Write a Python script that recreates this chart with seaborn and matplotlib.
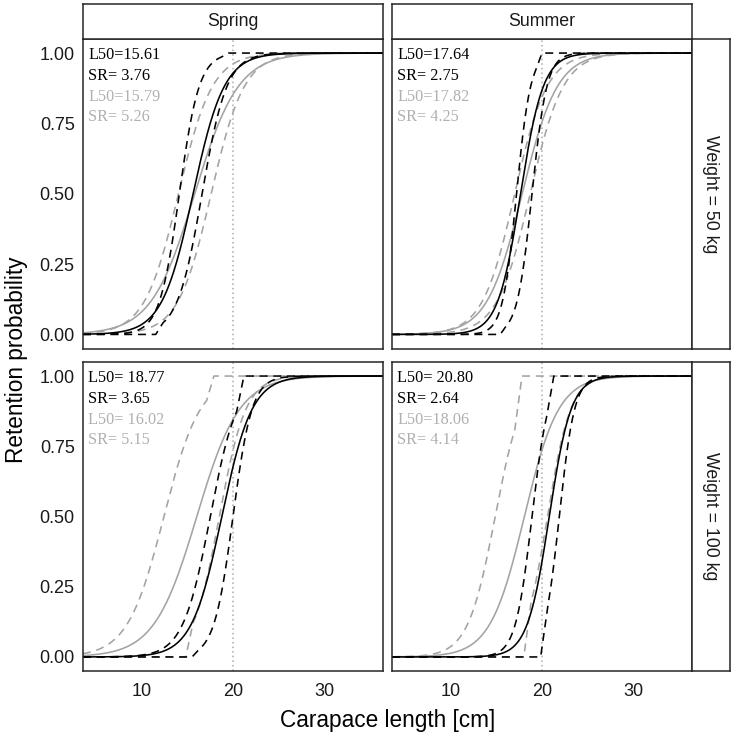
import numpy as np
import pandas as pd
import matplotlib
matplotlib.use("Agg")
import matplotlib.pyplot as plt
import seaborn as sns

sns.set_theme(style="white")
plt.rcParams['font.family'] = ['Liberation Sans', 'DejaVu Sans']

# ---------------- data ----------------
seasons = ["Spring", "Summer"]
weights = ["Weight = 50 kg", "Weight = 100 kg"]
# panel order: (Spring,50), (Summer,50), (Spring,100), (Summer,100)
panel_season = ["Spring", "Summer", "Spring", "Summer"]
panel_weight = ["Weight = 50 kg", "Weight = 50 kg", "Weight = 100 kg", "Weight = 100 kg"]

black_L50 = [15.61, 17.64, 18.77, 20.80]
black_SR = [3.76, 2.75, 3.65, 2.64]
gray_L50 = [15.79, 17.82, 16.02, 18.06]
gray_SR = [5.26, 4.25, 5.15, 4.14]

black_L50_text = ["L50=15.61", "L50=17.64", "L50= 18.77", "L50= 20.80"]
black_SR_text = ["SR= 3.76", "SR= 2.75", "SR= 3.65", "SR= 2.64"]
gray_L50_text = ["L50=15.79", "L50=17.82", "L50= 16.02", "L50=18.06"]
gray_SR_text = ["SR= 5.26", "SR= 4.25", "SR= 5.15", "SR= 4.14"]

# confidence band curves: L50, SR, and truncation points
black_lo_L50 = [14.1, 17.2, 17.5, 18.9]
black_lo_SR = [2.4, 1.7, 3.3, 2.0]
black_lo_cap = [18.7, 19.2, 20.4, 20.5]      # rises straight to 1 after this length
black_hi_L50 = [16.6, 18.9, 20.0, 21.9]
black_hi_SR = [3.0, 1.8, 2.3, 1.85]
black_hi_floor = [11.5, 15.4, 15.5, 19.85]   # zero up to this length
gray_lo_L50 = [14.0, 17.0, 12.4, 14.85]
gray_lo_SR = [4.1, 3.9, 4.4, 3.3]
gray_lo_cap = [99.0, 99.0, 17.1, 17.0]
gray_hi_L50 = [17.6, 18.7, 18.5, 20.6]
gray_hi_SR = [4.0, 4.0, 3.2, 2.8]
gray_hi_floor = [0.0, 0.0, 14.8, 18.0]

mls = 20
x_ticks = [10, 20, 30]
y_ticks = [0.0, 0.25, 0.50, 0.75, 1.00]
y_tick_labels = ["0.00", "0.25", "0.50", "0.75", "1.00"]

# ---------------- curves ----------------
lengths = np.round(np.arange(3.5, 36.5001, 0.05), 3)
RAMP = 0.8


def logistic(l, l50, sr):
    return 1.0 / (1.0 + np.exp(np.log(9.0) * (l50 - l) / sr))


def band_curve(l, l50, sr, floor, cap):
    y = logistic(l, l50, sr)
    # truncation at the top: straight segment up to 1
    yc = logistic(cap, l50, sr)
    top = (l > cap) & (l < cap + RAMP)
    y = np.where(top, yc + (1 - yc) * (l - cap) / RAMP, y)
    y = np.where(l >= cap + RAMP, 1.0, y)
    # truncation at the bottom: flat 0 then straight segment
    yf = logistic(floor + RAMP, l50, sr)
    bot = (l > floor) & (l < floor + RAMP)
    y = np.where(bot, yf * (l - floor) / RAMP, y)
    y = np.where(l <= floor, 0.0, y)
    return y


rows = []
for p in range(4):
    specs = [
        ("gray_lo", gray_lo_L50[p], gray_lo_SR[p], -99, gray_lo_cap[p]),
        ("gray_hi", gray_hi_L50[p], gray_hi_SR[p], gray_hi_floor[p], 99),
        ("gray", gray_L50[p], gray_SR[p], -99, 99),
        ("black_lo", black_lo_L50[p], black_lo_SR[p], -99, black_lo_cap[p]),
        ("black_hi", black_hi_L50[p], black_hi_SR[p], black_hi_floor[p], 99),
        ("black", black_L50[p], black_SR[p], -99, 99),
    ]
    for name, l50, sr, lo, hi in specs:
        y = band_curve(lengths, l50, sr, lo, hi)
        for xv, yv in zip(lengths, y):
            rows.append((p, name, xv, yv))
df = pd.DataFrame(rows, columns=["panel", "curve", "length", "prob"])

GRAY = "#a3a3a3"
TXTGRAY = "#b0b0b0"
palette = {"gray_lo": GRAY, "gray_hi": GRAY, "gray": GRAY,
           "black_lo": "black", "black_hi": "black", "black": "black"}
dashes = {"gray_lo": (5, 3.6), "gray_hi": (5, 3.6), "gray": "",
          "black_lo": (5, 3.6), "black_hi": (5, 3.6), "black": ""}
order = ["gray_lo", "gray_hi", "gray", "black_lo", "black_hi", "black"]

# ---------------- layout ----------------
W = 732.0
fig = plt.figure(figsize=(7.32, 7.32), dpi=100)
fig.patch.set_facecolor("white")

col_x = [(83, 383), (392, 692)]
row_y = [(39, 348.5), (362, 671)]


def box(x0, x1, y0, y1):
    return [x0 / W, 1 - y1 / W, (x1 - x0) / W, (y1 - y0) / W]


for p in range(4):
    r, c = divmod(p, 2)
    ax = fig.add_axes(box(*col_x[c], *row_y[r]))
    ax.set_facecolor("white")
    sub = df[df.panel == p]
    sns.lineplot(data=sub, x="length", y="prob", hue="curve", style="curve",
                 hue_order=order, style_order=order, palette=palette,
                 dashes=dashes, estimator=None, sort=False, legend=False,
                 linewidth=1.15, ax=ax)
    ax.axvline(mls, color="#ababab", linestyle=(0, (1, 2.0)), linewidth=1.1, zorder=0)
    ax.set_xlim(3.5, 36.5)
    ax.set_ylim(-0.05, 1.05)
    ax.set_xlabel("")
    ax.set_ylabel("")
    ax.set_xticks(x_ticks)
    ax.set_yticks(y_ticks)
    for s in ax.spines.values():
        s.set_visible(True)
        s.set_color("#262626")
        s.set_linewidth(1.1)
    ax.tick_params(axis="both", direction="out", length=3.5, width=0.9,
                   color="#333333", labelsize=13, labelcolor="#1a1a1a", pad=2.5)
    ax.tick_params(axis="x", pad=5.5)
    if c == 0:
        ax.set_yticklabels(y_tick_labels)
    else:
        ax.tick_params(axis="y", left=False, labelleft=False)
    if r == 1:
        ax.set_xticklabels([str(t) for t in x_ticks])
    else:
        ax.tick_params(axis="x", bottom=False, labelbottom=False)
    texts = [(black_L50_text[p], "black"), (black_SR_text[p], "black"),
             (gray_L50_text[p], TXTGRAY), (gray_SR_text[p], TXTGRAY)]
    ys = [0.993, 0.918, 0.845, 0.773]
    for (t, col), yv in zip(texts, ys):
        ax.text(4.1, yv, t, color=col, ha="left", va="center",
                family=["Liberation Serif", "DejaVu Serif"], fontsize=11.7)

# strips
for c in range(2):
    sax = fig.add_axes(box(*col_x[c], 4, 39))
    sax.set_xticks([]); sax.set_yticks([])
    sax.set_facecolor("white")
    for s in sax.spines.values():
        s.set_visible(True); s.set_color("#262626"); s.set_linewidth(1.1)
    sax.text(0.5, 0.5, seasons[c], ha="center", va="center", fontsize=12.8,
             color="#1a1a1a", transform=sax.transAxes)
for r in range(2):
    sax = fig.add_axes(box(692, 730, *row_y[r]))
    sax.set_xticks([]); sax.set_yticks([])
    sax.set_facecolor("white")
    for s in sax.spines.values():
        s.set_visible(True); s.set_color("#262626"); s.set_linewidth(1.1)
    sax.text(0.5, 0.5, weights[r], ha="center", va="center", fontsize=12.8,
             rotation=-90, color="#1a1a1a", transform=sax.transAxes)

fig.text(388 / W, 1 - 720 / W, "Carapace length [cm]", ha="center", va="center",
         fontsize=16.3, color="black")
fig.text(17 / W, 1 - 360 / W, "Retention probability", ha="center", va="center",
         rotation=90, fontsize=16.3, color="black")

fig.savefig("out.png", dpi=100, facecolor="white")
